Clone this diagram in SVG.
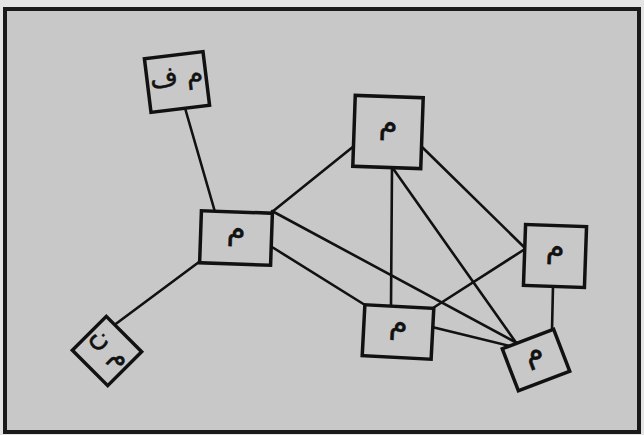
<svg xmlns="http://www.w3.org/2000/svg" width="644" height="435" viewBox="0 0 644 435">
<style>
.bg{fill:#e4e4e4}
.frame{fill:#c8c8c8;stroke:#1a1a1a;stroke-width:4}
.box{fill:#c8c8c8;stroke:#111;stroke-width:3.5}
.lbl{font-family:"DejaVu Sans",sans-serif;font-size:30px;fill:#111;stroke:#111;stroke-width:0.6;text-anchor:middle}
.lbl2{font-family:"DejaVu Sans",sans-serif;font-size:27px;fill:#111;stroke:#111;stroke-width:0.5;text-anchor:middle}
.edges line{stroke:#111;stroke-width:2.6;stroke-linecap:round}
</style>
<rect class="bg" x="0" y="0" width="644" height="435"/>
<rect class="frame" x="5" y="9" width="634" height="423"/>
<g class="edges" id="connectors">
<line x1="185" y1="108" x2="215" y2="212"/>
<line x1="199" y1="262" x2="113" y2="326"/>
<line x1="272" y1="212" x2="354" y2="146"/>
<line x1="272" y1="247" x2="365" y2="305"/>
<line x1="272" y1="211" x2="517" y2="343"/>
<line x1="392" y1="167" x2="391" y2="306"/>
<line x1="392" y1="167" x2="517" y2="344"/>
<line x1="422" y1="147" x2="525" y2="248"/>
<line x1="433" y1="308" x2="525" y2="249"/>
<line x1="432" y1="327" x2="510" y2="346"/>
<line x1="553" y1="286" x2="552" y2="330"/>
</g>
<g id="n1" transform="translate(177,82) rotate(-7)"><rect class="box" x="-29.5" y="-27" width="59" height="54"/><text class="lbl2" x="0" y="3">م ف</text></g>
<g id="n2" transform="translate(236,238) rotate(2)"><rect class="box" x="-35.5" y="-26" width="71" height="52"/><text class="lbl" x="0" y="1">م</text></g>
<g id="n3" transform="translate(107,351) rotate(45)"><rect class="box" x="-25" y="-24" width="50" height="48"/><text class="lbl2" x="0" y="3">م ن</text></g>
<g id="n4" transform="translate(388,132) rotate(2)"><rect class="box" x="-34" y="-35.5" width="68" height="71"/><text class="lbl" x="0" y="1">م</text></g>
<g id="n5" transform="translate(398,332) rotate(3)"><rect class="box" x="-34.5" y="-25.5" width="69" height="51"/><text class="lbl" x="0" y="1">م</text></g>
<g id="n6" transform="translate(555,256) rotate(2)"><rect class="box" x="-30.5" y="-30.5" width="61" height="61"/><text class="lbl" x="0" y="1">م</text></g>
<g id="n7" transform="translate(536,360) rotate(-21)"><rect class="box" x="-27.5" y="-22.5" width="55" height="45"/><text class="lbl" x="0" y="1">م</text></g>
</svg>
